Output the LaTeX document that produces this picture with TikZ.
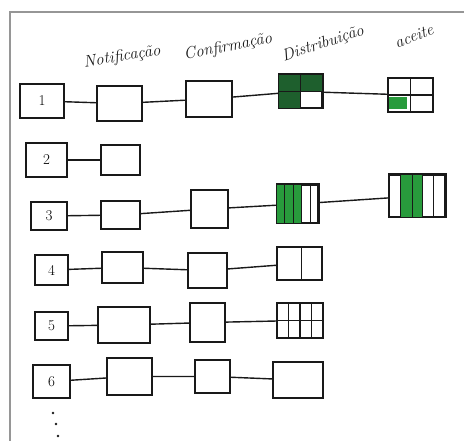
\documentclass[tikz,border=0pt]{standalone}
\usetikzlibrary{calc}
\definecolor{framegray}{RGB}{150,150,150}
\definecolor{ink}{RGB}{25,25,25}
\definecolor{gmark}{RGB}{40,155,60}
\definecolor{gdark}{RGB}{30,95,45}
\tikzset{
  box/.style={draw=ink, line width=1.5pt, inner sep=0pt, font=\fontsize{15}{16}\selectfont},
  link/.style={draw=ink, line width=1.4pt},
  head/.style={font=\itshape\fontsize{16.5}{18}\selectfont, text=ink, inner sep=0pt},
  cellline/.style={draw=ink, line width=1.1pt},
}
\newcommand{\bx}[5]{\node[box, minimum width=#4pt, minimum height=#5pt] (#1) at (#2,#3) {};}
\begin{document}
\begin{tikzpicture}[x=1pt, y=-1pt]
\useasboundingbox (0,0) rectangle (464,441);
\fill[white] (0,0) rectangle (464,441);
% sheet edge
\draw[framegray, line width=2pt] (10,441) -- (10,12) -- (464,12);

% column headings
\node[head, rotate=9]  (hN) at (122,57) {Notificação};
\node[head, rotate=11] (hC) at (228,47) {Confirmação};
\node[head, rotate=18] (hD) at (323,44) {Distribuição};
\node[head, rotate=21] (hA) at (414,36) {aceite};

% row 1
\node[box, minimum width=44pt, minimum height=34pt] (r1) at (42,101) {1};
\bx{n1}{119.5}{103.5}{45}{35}
\bx{c1}{209}{99}{46}{36}
\bx{d1}{300.5}{91.5}{43}{33}
\bx{a1}{410.5}{95}{45}{34}
% row 2
\node[box, minimum width=41pt, minimum height=34pt] (r2) at (46.5,160) {2};
\bx{n2}{120.5}{160}{39}{30}
% row 3
\node[box, minimum width=36pt, minimum height=28pt] (r3) at (49,216) {3};
\bx{n3}{120.5}{215}{39}{28}
\bx{c3}{209.5}{209}{37}{38}
\bx{d3}{297.5}{204}{41}{38}
\bx{a3}{417}{196}{56}{42}
% row 4
\node[box, minimum width=33pt, minimum height=30pt] (r4) at (51.5,270) {4};
\bx{n4}{122.5}{267.5}{41}{31}
\bx{c4}{207.5}{270.5}{39}{35}
\bx{d4}{299.5}{263.5}{45}{33}
% row 5
\node[box, minimum width=33pt, minimum height=28pt] (r5) at (51.5,326) {5};
\bx{n5}{124}{325}{52}{36}
\bx{c5}{207.5}{322.5}{35}{39}
\bx{d5}{300}{320.5}{46}{35}
% row 6
\node[box, minimum width=37pt, minimum height=33pt] (r6) at (51.5,381.5) {6};
\bx{n6}{129.5}{376.5}{45}{37}
\bx{c6}{212.5}{376.5}{35}{33}
\bx{d6}{298}{380}{50}{36}

% connectors
\draw[link] (r1) -- (n1) -- (c1) -- (d1) -- (a1);
\draw[link] (r2) -- (n2);
\draw[link] (r3) -- (n3) -- (c3) -- (d3) -- (a3);
\draw[link] (r4) -- (n4) -- (c4) -- (d4);
\draw[link] (r5) -- (n5) -- (c5) -- (d5);
\draw[link] (r6) -- (n6) -- (c6) -- (d6);

% row 1 distribution: three quarters marked
\fill[gdark] (d1.north west) rectangle (d1.east);
\fill[gdark] (d1.west) rectangle (d1.south);
\draw[cellline] (d1.north) -- (d1.south) (d1.west) -- (d1.east);
\draw[box] (d1.north west) rectangle (d1.south east);
% row 1 acceptance: one quarter marked
\fill[gmark] ($(a1.west)+(2,2)$) rectangle ($(a1.south)+(-4,-4)$);
\draw[cellline] (a1.north) -- (a1.south) (a1.west) -- (a1.east);

% row 3 distribution: five columns, three marked
\fill[gmark] (d3.north west) rectangle ($(d3.south west)!0.6!(d3.south east)$);
\foreach \f in {0.2,0.4,0.6,0.8}
  \draw[cellline] ($(d3.north west)!\f!(d3.north east)$) -- ($(d3.south west)!\f!(d3.south east)$);
\draw[box] (d3.north west) rectangle (d3.south east);
% row 3 acceptance: five columns, second and third marked
\fill[gmark] ($(a3.north west)!0.22!(a3.north east)$) rectangle ($(a3.south west)!0.6!(a3.south east)$);
\foreach \f in {0.22,0.42,0.6,0.79}
  \draw[cellline] ($(a3.north west)!\f!(a3.north east)$) -- ($(a3.south west)!\f!(a3.south east)$);
\draw[box] (a3.north west) rectangle (a3.south east);

% row 4 distribution: two columns
\draw[cellline] ($(d4.north west)!0.55!(d4.north east)$) -- ($(d4.south west)!0.55!(d4.south east)$);
% row 5 distribution: four columns, two rows
\foreach \f in {0.25,0.5,0.75}
  \draw[cellline] ($(d5.north west)!\f!(d5.north east)$) -- ($(d5.south west)!\f!(d5.south east)$);
\draw[cellline] (d5.west) -- (d5.east);

% more rows follow
\fill[ink] (53,413) circle (1.3pt) (56,424) circle (1.3pt) (58,436) circle (1.3pt);
\end{tikzpicture}
\end{document}
